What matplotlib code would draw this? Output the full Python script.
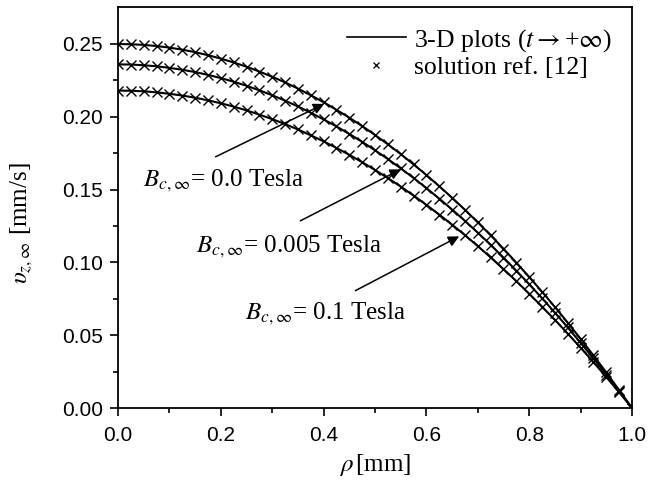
import matplotlib
matplotlib.use("Agg")
import matplotlib.pyplot as plt
from matplotlib.lines import Line2D

plt.rcParams['mathtext.fontset'] = 'stix'

rho = [0.000, 0.025, 0.050, 0.075, 0.100, 0.125, 0.150, 0.175, 0.200, 0.225,
       0.250, 0.275, 0.300, 0.325, 0.350, 0.375, 0.400, 0.425, 0.450, 0.475,
       0.500, 0.525, 0.550, 0.575, 0.600, 0.625, 0.650, 0.675, 0.700, 0.725,
       0.750, 0.775, 0.800, 0.825, 0.850, 0.875, 0.900, 0.925, 0.950, 0.975, 1.000]

v_b0 = [0.2500, 0.2498, 0.2494, 0.2486, 0.2475, 0.2461, 0.2444, 0.2423, 0.2400, 0.2373,
        0.2344, 0.2311, 0.2275, 0.2236, 0.2194, 0.2148, 0.2100, 0.2048, 0.1994, 0.1936,
        0.1875, 0.1811, 0.1744, 0.1673, 0.1600, 0.1523, 0.1444, 0.1361, 0.1275, 0.1186,
        0.1094, 0.0998, 0.0900, 0.0798, 0.0694, 0.0586, 0.0475, 0.0361, 0.0244, 0.0123, 0.0000]

v_b005 = [0.2360, 0.2359, 0.2354, 0.2347, 0.2336, 0.2323, 0.2307, 0.2288, 0.2266, 0.2241,
          0.2213, 0.2182, 0.2148, 0.2111, 0.2071, 0.2028, 0.1982, 0.1934, 0.1882, 0.1828,
          0.1770, 0.1710, 0.1646, 0.1580, 0.1510, 0.1438, 0.1363, 0.1285, 0.1204, 0.1120,
          0.1033, 0.0943, 0.0850, 0.0754, 0.0655, 0.0553, 0.0448, 0.0341, 0.0230, 0.0117, 0.0000]

v_b01 = [0.2180, 0.2179, 0.2175, 0.2168, 0.2158, 0.2146, 0.2131, 0.2113, 0.2093, 0.2070,
         0.2044, 0.2015, 0.1984, 0.1950, 0.1913, 0.1873, 0.1831, 0.1786, 0.1739, 0.1688,
         0.1635, 0.1579, 0.1521, 0.1459, 0.1395, 0.1328, 0.1259, 0.1187, 0.1112, 0.1034,
         0.0954, 0.0871, 0.0785, 0.0696, 0.0605, 0.0511, 0.0414, 0.0315, 0.0213, 0.0108, 0.0000]

labels = [r"$B_{c,\infty}$= 0.0 Tesla", r"$B_{c,\infty}$= 0.005 Tesla", r"$B_{c,\infty}$= 0.1 Tesla"]
x_ticks = [0.0, 0.2, 0.4, 0.6, 0.8, 1.0]
y_ticks = [0.00, 0.05, 0.10, 0.15, 0.20, 0.25]

serif = ['Liberation Serif', 'DejaVu Serif']
sans = ['Liberation Sans', 'DejaVu Sans']

fig = plt.figure(figsize=(6.51, 4.87), dpi=100)
ax = fig.add_axes([0.1813, 0.1622, 0.7895, 0.8234])

for v in (v_b0, v_b005, v_b01):
    ax.plot(rho, v, color='black', lw=1.5, zorder=2)
    ax.plot(rho, v, linestyle='none', marker='x', ms=7.5, mew=1.0, color='black', zorder=3)

ax.set_xlim(0, 1.0)
ax.set_ylim(0, 0.2754)
ax.set_xticks(x_ticks)
ax.set_yticks(y_ticks)
ax.set_xticklabels([f"{t:.1f}" for t in x_ticks], family=sans, fontsize=15)
ax.set_yticklabels([f"{t:.2f}" for t in y_ticks], family=sans, fontsize=15)
ax.set_xticks([0.1, 0.3, 0.5, 0.7, 0.9], minor=True)
ax.set_yticks([0.025, 0.075, 0.125, 0.175, 0.225], minor=True)
ax.tick_params(axis='x', which='major', pad=7)
ax.tick_params(axis='y', which='major', pad=5)
ax.tick_params(which='major', direction='out', length=6, width=1.2, top=False, right=False)
ax.tick_params(which='minor', direction='out', length=3.5, width=1.2, top=False, right=False)
for s in ax.spines.values():
    s.set_linewidth(1.3)

ax.set_xlabel(r"$\rho\,$[mm]", family=serif, fontsize=18, labelpad=5)
ax.set_ylabel(r"$\upsilon_{z,\infty}$ [mm/s]", family=serif, fontsize=18)
ax.yaxis.set_label_coords(-0.162, 0.46)

arrow_kw = dict(arrowstyle='-|>', color='black', lw=1.1, mutation_scale=16)
ax.annotate('', xy=(0.406, 0.2097), xytext=(0.185, 0.1717), arrowprops=arrow_kw)
ax.annotate('', xy=(0.555, 0.1648), xytext=(0.350, 0.1277), arrowprops=arrow_kw)
ax.annotate('', xy=(0.6686, 0.1188), xytext=(0.457, 0.0797), arrowprops=arrow_kw)

ax.text(0.049, 0.156, labels[0], family=serif, fontsize=18, va='center', ha='left')
ax.text(0.152, 0.111, labels[1], family=serif, fontsize=18, va='center', ha='left')
ax.text(0.247, 0.0646, labels[2], family=serif, fontsize=18, va='center', ha='left')

handles = [Line2D([], [], color='black', lw=1.2),
           Line2D([], [], linestyle='none', marker='x', ms=5, mew=0.9, color='black')]
ax.legend(handles, [r"3-D plots ($t$$\rightarrow$+$\infty$)", "solution ref. [12]"],
          loc='upper right', bbox_to_anchor=(0.995, 0.995), frameon=False,
          prop={'family': serif, 'size': 18.5}, handlelength=2.3, handletextpad=0.3,
          labelspacing=0.1, borderaxespad=0.3)

fig.savefig("out.png", dpi=100)
